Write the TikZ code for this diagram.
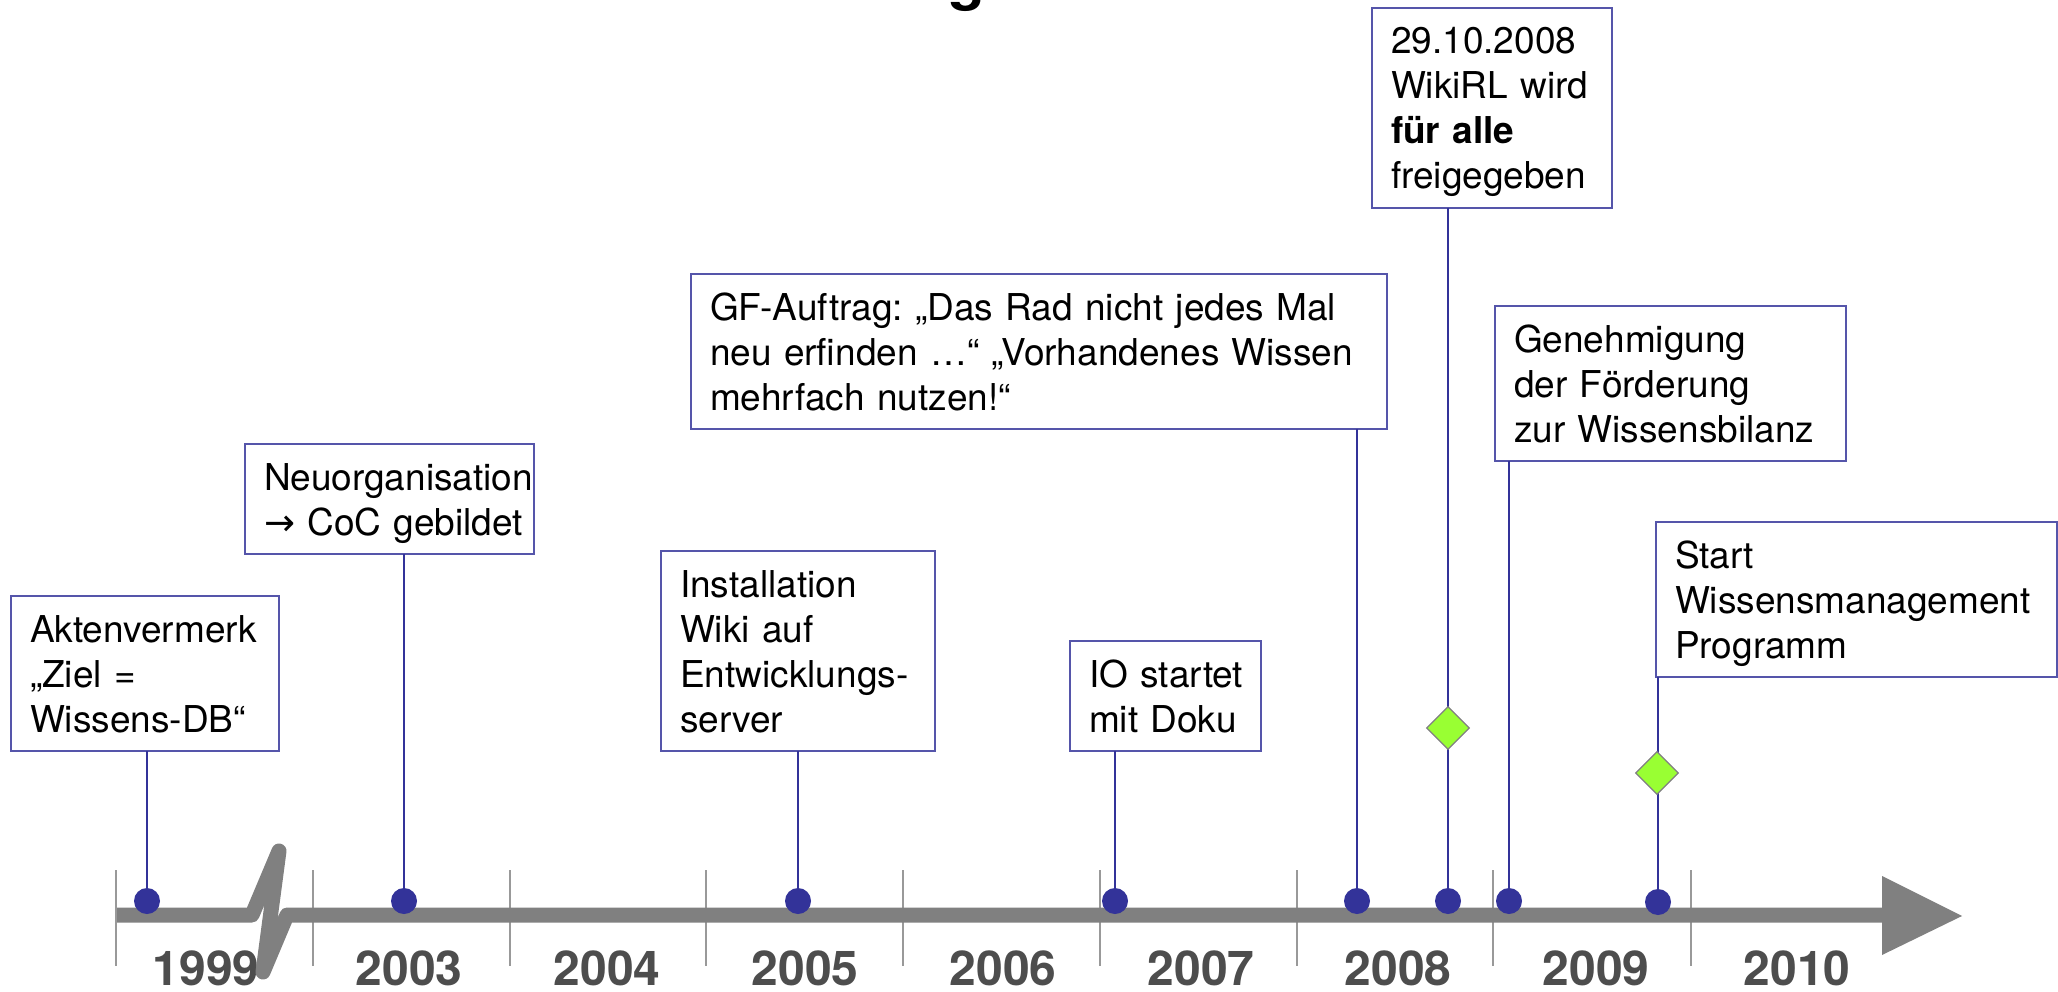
\documentclass[tikz,border=0pt]{standalone}
\usepackage{fontspec}
\setmainfont{TeX Gyre Heros}
\newfontfamily\arrowfont{DejaVu Sans}
\usetikzlibrary{shapes.geometric}
\definecolor{dotblue}{RGB}{51,51,153}
\definecolor{boxblue}{RGB}{85,85,170}
\definecolor{bargray}{RGB}{128,128,128}
\definecolor{yeargray}{RGB}{77,77,77}
\definecolor{tickgray}{RGB}{153,153,153}
\definecolor{diagreen}{RGB}{153,255,51}
\newcommand\tstrut{\rule{0pt}{46pt}}
\newcommand\bstrut{\rule[-19pt]{0pt}{19pt}}
\newcommand\oneline[1]{\mbox{#1}}
\frenchspacing
\begin{document}
\begin{tikzpicture}[x=1pt,y=-1pt,
  evbox/.style={draw=boxblue,line width=1.5pt,fill=white,anchor=north west,
    inner xsep=19pt,inner ysep=0pt,outer sep=0pt,align=left,
    font=\fontsize{37}{45}\selectfont\frenchspacing},
  conn/.style={draw=dotblue,line width=1.3pt},
  dot/.style={circle,fill=dotblue,minimum size=26pt,inner sep=0pt,outer sep=0pt},
  dia/.style={diamond,draw=bargray,fill=diagreen,line width=1.2pt,
    minimum width=43pt,minimum height=43pt,inner sep=0pt},
  year/.style={anchor=base,inner sep=0pt,text=yeargray,
    font=\fontsize{48}{48}\selectfont\bfseries},
  tickline/.style={draw=tickgray,line width=1.3pt},
  bar/.style={draw=bargray,line width=15pt,line join=round}
]
\path[use as bounding box,fill=white] (0,0) rectangle (2058,992);

% cut-off title fragment
\node[anchor=base,inner sep=0pt,font=\fontsize{60}{60}\selectfont\bfseries] (ttl) at (967,-1) {g};

% ticks
\foreach \x/\n in {116/t0,313/t1,510/t2,706/t3,903/t4,1100/t5,1297/t6,1493/t7,1691/t8}{
  \coordinate (\n a) at (\x,870);
  \coordinate (\n b) at (\x,966);
  \draw[tickline] (\n a) -- (\n b);
}

% years
\node[year] (y1999) at (206,985) {1999};
\node[year] (y2003) at (409,985) {2003};
\node[year] (y2004) at (607,985) {2004};
\node[year] (y2005) at (805,985) {2005};
\node[year] (y2006) at (1003,985) {2006};
\node[year] (y2007) at (1201,985) {2007};
\node[year] (y2008) at (1398,985) {2008};
\node[year] (y2009) at (1596,985) {2009};
\node[year] (y2010) at (1797,985) {2010};

% bar with break and arrow
\coordinate (bs) at (117,915);
\coordinate (k1) at (252,915);
\coordinate (k2) at (279,851);
\coordinate (k3) at (263,972);
\coordinate (k4) at (287,915);
\coordinate (be) at (1883,915);
\draw[bar] (bs) -- (k1) -- (k2) -- (k3) -- (k4) -- (be);
\coordinate (at1) at (1882,876);
\coordinate (at2) at (1962,916);
\coordinate (at3) at (1882,955);
\fill[bargray] (at1) -- (at2) -- (at3) -- cycle;

% dots
\node[dot] (d1) at (147,901) {};
\node[dot] (d2) at (404,901) {};
\node[dot] (d3) at (798,901) {};
\node[dot] (d4) at (1115,901) {};
\node[dot] (d5) at (1357,901) {};
\node[dot] (d6) at (1448,901) {};
\node[dot] (d7) at (1509,901) {};
\node[dot] (d8) at (1658,902) {};

% boxes
\node[evbox,text width=230pt] (b1) at (11,596)
  {\tstrut\oneline{Aktenvermerk}\\\oneline{„Ziel =}\\\oneline{Wissens-DB“}\bstrut};
\node[evbox,text width=251pt] (b2) at (245,444)
  {\tstrut\oneline{Neuorganisation}\\\oneline{{\arrowfont →} CoC gebildet}\bstrut};
\node[evbox,text width=236pt] (b3) at (661,551)
  {\tstrut\oneline{Installation}\\\oneline{Wiki auf}\\\oneline{Entwicklungs-}\\\oneline{server}\bstrut};
\node[evbox,text width=153pt] (b4) at (1070,641)
  {\tstrut\oneline{IO startet}\\\oneline{mit Doku}\bstrut};
\node[evbox,text width=658pt] (b5) at (691,274)
  {\tstrut\oneline{GF-Auftrag: „Das Rad nicht jedes Mal}\\\oneline{neu erfinden …“ „Vorhandenes Wissen}\\\oneline{mehrfach nutzen!“}\bstrut};
\node[evbox,text width=202pt] (b6) at (1372,8)
  {\tstrut\oneline{29.10.2008}\\\oneline{WikiRL wird}\\\oneline{\textbf{für alle}}\\\oneline{freigegeben}\bstrut};
\node[evbox,text width=313pt] (b7) at (1495,306)
  {\tstrut\oneline{Genehmigung}\\\oneline{der Förderung}\\\oneline{zur Wissensbilanz}\bstrut};
\node[evbox,text width=363pt] (b8) at (1656,522)
  {\tstrut\oneline{Start}\\\oneline{Wissensmanagement}\\\oneline{Programm}\bstrut};

% connectors
\draw[conn] (b1.south -| d1) -- (d1);
\draw[conn] (b2.south -| d2) -- (d2);
\draw[conn] (b3.south -| d3) -- (d3);
\draw[conn] (b4.south -| d4) -- (d4);
\draw[conn] (b5.south -| d5) -- (d5);
\draw[conn] (b6.south -| d6) -- (d6);
\draw[conn] (b7.south -| d7) -- (d7);
\draw[conn] (b8.south -| d8) -- (d8);

% diamonds
\node[dia] (m1) at (1448,728) {};
\node[dia] (m2) at (1657,773) {};
\end{tikzpicture}
\end{document}
